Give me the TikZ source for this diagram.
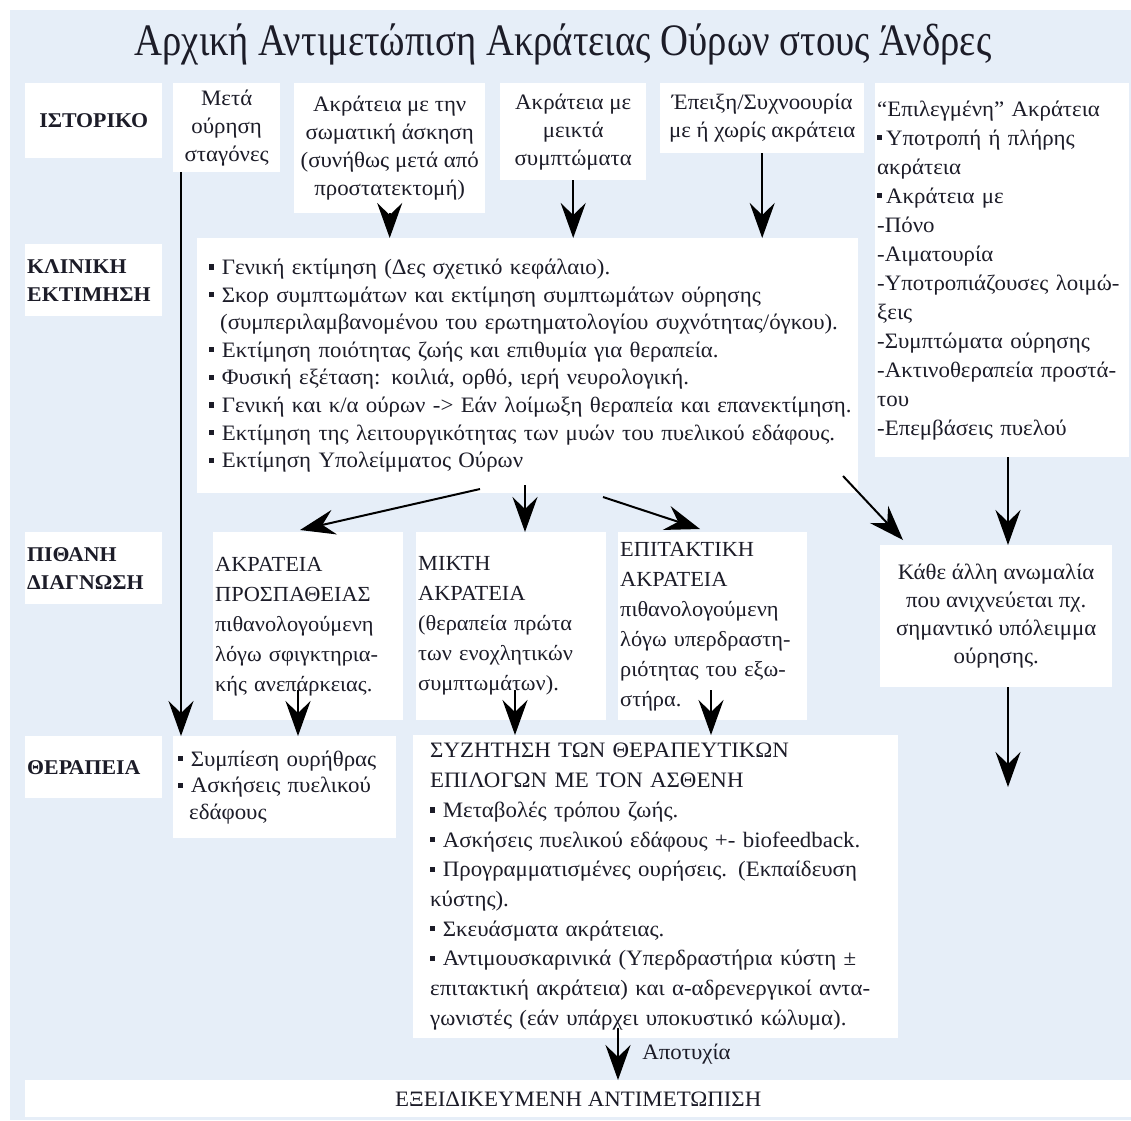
\documentclass[tikz,border=0pt]{standalone}
\usepackage{fontspec}
\setmainfont{Liberation Serif}[FakeStretch=1.04]
\newfontfamily\titlefont{Liberation Serif}[FakeStretch=0.86]
\usetikzlibrary{arrows.meta}
\definecolor{bgblue}{HTML}{E6EEF8}
\definecolor{txt}{HTML}{1C1C28}
\newcommand\sqb{\raisebox{0.22em}{\rule{0.24em}{0.24em}}}
\begin{document}
\begin{tikzpicture}[x=1pt,y=-1pt,
  wbox/.style={fill=white, inner sep=0pt, anchor=north west, text=txt},
  body/.style={font=\fontsize{22}{28}\selectfont},
  lbl/.style={wbox, font=\bfseries\fontsize{21}{28}\selectfont},
  arr/.style={line width=2pt, draw=black, -{Stealth[length=35pt,width=25pt,inset=12pt]}}
]
\useasboundingbox (0,0) rectangle (1131,1120);
\fill[bgblue] (10,10) rectangle (1131,1120);

\node[text=txt, font=\titlefont\fontsize{45}{48}\selectfont] (title) at (563,44) {Αρχική Αντιμετώπιση Ακράτειας Ούρων στους Άνδρες};

% row labels
\node[lbl, minimum width=137pt, minimum height=75pt] (L1) at (25,83) {ΙΣΤΟΡΙΚΟ};
\node[lbl, minimum width=137pt, minimum height=72pt, text width=133pt, inner xsep=2pt, align=left] (L2) at (25,244) {ΚΛΙΝΙΚΗ\\ΕΚΤΙΜΗΣΗ};
\node[lbl, minimum width=137pt, minimum height=72pt, text width=133pt, inner xsep=2pt, align=left] (L3) at (25,532) {ΠΙΘΑΝΗ\\ΔΙΑΓΝΩΣΗ};
\node[lbl, minimum width=137pt, minimum height=62pt, text width=133pt, inner xsep=2pt, align=left] (L4) at (25,736) {ΘΕΡΑΠΕΙΑ};

% history boxes
\node[wbox, body, minimum width=107pt, minimum height=89pt, align=center] (B1) at (173,83) {Μετά\\ούρηση\\σταγόνες};
\node[wbox, body, minimum width=191pt, minimum height=130pt, align=center] (B2) at (294,83) {Ακράτεια με την\\σωματική άσκηση\\(συνήθως μετά από\\προστατεκτομή)};
\node[wbox, body, minimum width=146pt, minimum height=97pt, align=center] (B3) at (500,83) {Ακράτεια με\\μεικτά\\συμπτώματα};
\node[wbox, body, minimum width=204pt, minimum height=70pt, align=center] (B4) at (660,83) {Έπειξη/Συχνοουρία\\με ή χωρίς ακράτεια};
\node[wbox, body, minimum width=254pt, minimum height=374pt, text width=250pt, inner xsep=2pt, align=left, font=\fontsize{22}{29}\selectfont] (B5) at (875,83) {“Επιλεγμένη” Ακράτεια\\\sqb\,Υποτροπή ή πλήρης\\ακράτεια\\\sqb\,Ακράτεια με\\-Πόνο\\-Αιματουρία\\-Υποτροπιάζουσες λοιμώ-\\ξεις\\-Συμπτώματα ούρησης\\-Ακτινοθεραπεία προστά-\\του\\-Επεμβάσεις πυελού};

% clinical assessment
\node[wbox, body, minimum width=661pt, minimum height=255pt, text width=653pt, inner xsep=4pt, align=left, font=\fontsize{22}{27.6}\selectfont] (C) at (197,238) {\hspace*{8pt}\sqb{} Γενική εκτίμηση (Δες σχετικό κεφάλαιο).\\
\hspace*{8pt}\sqb{} Σκορ συμπτωμάτων και εκτίμηση συμπτωμάτων ούρησης\\
\hspace*{8pt}\hspace*{0.5em}(συμπεριλαμβανομένου του ερωτηματολογίου συχνότητας/όγκου).\\
\hspace*{8pt}\sqb{} Εκτίμηση ποιότητας ζωής και επιθυμία για θεραπεία.\\
\hspace*{8pt}\sqb{} Φυσική εξέταση: κοιλιά, ορθό, ιερή νευρολογική.\\
\hspace*{8pt}\sqb{} Γενική και κ/α ούρων -> Εάν λοίμωξη θεραπεία και επανεκτίμηση.\\
\hspace*{8pt}\sqb{} Εκτίμηση της λειτουργικότητας των μυών του πυελικού εδάφους.\\
\hspace*{8pt}\sqb{} Εκτίμηση Υπολείμματος Ούρων};

% diagnosis
\node[wbox, body, minimum width=189pt, minimum height=188pt, text width=186pt, inner xsep=2pt, align=left, font=\fontsize{21.5}{30}\selectfont] (D1) at (213,532) {ΑΚΡΑΤΕΙΑ\\ΠΡΟΣΠΑΘΕΙΑΣ\\πιθανολογούμενη\\λόγω σφιγκτηρια-\\κής ανεπάρκειας.};
\node[wbox, body, minimum width=189pt, minimum height=188pt, text width=186pt, inner xsep=2pt, align=left, font=\fontsize{21.5}{30}\selectfont] (D2) at (416,532) {ΜΙΚΤΗ\\ΑΚΡΑΤΕΙΑ\\(θεραπεία πρώτα\\των ενοχλητικών\\συμπτωμάτων).};
\node[wbox, body, minimum width=188pt, minimum height=188pt, text width=185pt, inner xsep=2pt, align=left, font=\fontsize{21.5}{30}\selectfont] (D3) at (618,532) {ΕΠΙΤΑΚΤΙΚΗ\\ΑΚΡΑΤΕΙΑ\\πιθανολογούμενη\\λόγω υπερδραστη-\\ριότητας του εξω-\\στήρα.};
\node[wbox, body, minimum width=232pt, minimum height=142pt, align=center] (D4) at (880,545) {Κάθε άλλη ανωμαλία\\που ανιχνεύεται πχ.\\σημαντικό υπόλειμμα\\ούρησης.};

% treatment
\node[wbox, body, minimum width=223pt, minimum height=102pt, text width=219pt, inner xsep=2pt, align=left, font=\fontsize{22}{26.5}\selectfont] (T1) at (173,736) {\hspace*{3pt}\sqb{} Συμπίεση ουρήθρας\\\hspace*{3pt}\sqb{} Ασκήσεις πυελικού\\\hspace*{3pt}\hspace*{0.5em}εδάφους};
\node[wbox, body, minimum width=485pt, minimum height=303pt, text width=471pt, inner xsep=7pt, align=left, font=\fontsize{22}{29.7}\selectfont] (T2) at (413,735) {\hspace*{10pt}ΣΥΖΗΤΗΣΗ ΤΩΝ ΘΕΡΑΠΕΥΤΙΚΩΝ\\\hspace*{10pt}ΕΠΙΛΟΓΩΝ ΜΕ ΤΟΝ ΑΣΘΕΝΗ\\
\hspace*{10pt}\sqb{} Μεταβολές τρόπου ζωής.\\
\hspace*{10pt}\sqb{} Ασκήσεις πυελικού εδάφους +- biofeedback.\\
\hspace*{10pt}\sqb{} Προγραμματισμένες ουρήσεις. (Εκπαίδευση\\\hspace*{10pt}κύστης).\\
\hspace*{10pt}\sqb{} Σκευάσματα ακράτειας.\\
\hspace*{10pt}\sqb{} Αντιμουσκαρινικά (Υπερδραστήρια κύστη ±\\
\hspace*{10pt}επιτακτική ακράτεια) και α-αδρενεργικοί αντα-\\
\hspace*{10pt}γωνιστές (εάν υπάρχει υποκυστικό κώλυμα).};

\node[wbox, body, minimum width=1106pt, minimum height=37pt] (E) at (25,1080) {ΕΞΕΙΔΙΚΕΥΜΕΝΗ ΑΝΤΙΜΕΤΩΠΙΣΗ};

% helper coordinates
\coordinate (xa) at (181,0);
\coordinate (xd1) at (298,0);
\coordinate (xd2) at (515,0);
\coordinate (xd3) at (711,0);
\coordinate (xc2) at (525,0);
\coordinate (xr) at (1008,0);
\coordinate (xe) at (618,0);
\coordinate (c1) at (480,489);
\coordinate (t1) at (300,530);
\coordinate (c3) at (603,497);
\coordinate (t3) at (700,529);
\coordinate (c4) at (843,476);
\coordinate (t4) at (903,540);
\coordinate (dn) at (1008,787);

% arrows
\draw[arr] (B1.south -| xa) -- (T1.north -| xa);
\draw[arr] (B2.south) -- (B2.south |- C.north);
\draw[arr] (B3.south) -- (B3.south |- C.north);
\draw[arr] (B4.south) -- (B4.south |- C.north);
\draw[arr] (B5.south -| xr) -- (D4.north -| xr);
\draw[arr] (c1) -- (t1);
\draw[arr] ([yshift=8pt]C.south -| xc2) -- (D2.north -| xc2);
\draw[arr] (c3) -- (t3);
\draw[arr] (c4) -- (t4);
\draw[arr] (D4.south -| xr) -- (dn);
\draw[arr] ([yshift=30pt]D1.south -| xd1) -- (T1.north -| xd1);
\draw[arr] ([yshift=30pt]D2.south -| xd2) -- (T2.north -| xd2);
\draw[arr] ([yshift=30pt]D3.south -| xd3) -- (T2.north -| xd3);
\draw[arr] ([yshift=10pt]T2.south -| xe) -- (E.north -| xe) node[pos=0.5, right=20pt, text=txt, font=\fontsize{22}{24}\selectfont] (fail) {Αποτυχία};
\end{tikzpicture}
\end{document}
